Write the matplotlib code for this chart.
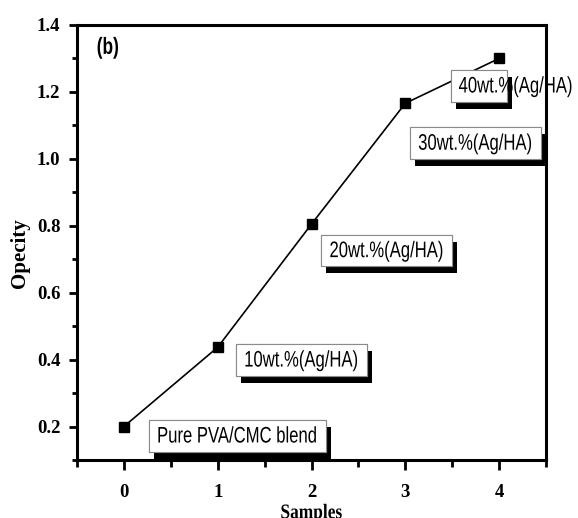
import matplotlib
matplotlib.use("Agg")
import matplotlib.pyplot as plt
from matplotlib.patches import Rectangle
from matplotlib.ticker import MultipleLocator
from matplotlib.transforms import Affine2D
import matplotlib.patheffects as pe

# Opacity of PVA/CMC films loaded with Ag/HA
samples = [0, 1, 2, 3, 4]
opacity = [0.20, 0.437, 0.805, 1.166, 1.300]
labels = ["Pure PVA/CMC blend", "10wt.%(Ag/HA)", "20wt.%(Ag/HA)",
          "30wt.%(Ag/HA)", "40wt.%(Ag/HA)"]
xticks = [0, 1, 2, 3, 4]
yticks = [0.2, 0.4, 0.6, 0.8, 1.0, 1.2, 1.4]

# Label box centres (data coords) for the first four labels
label_pos = [(1.207, 0.172), (1.89, 0.399), (2.80, 0.726), (3.745, 1.047)]

sans = "Liberation Sans"
serif = "Liberation Serif"


class TallText(pe.AbstractPathEffect):
    """Draw glyphs stretched vertically about mid cap height (narrow look)."""

    def __init__(self, sy=1.35, mid=36):
        super().__init__()
        self.pre = Affine2D().translate(0, -mid).scale(1, sy).translate(0, mid)

    def draw_path(self, renderer, gc, tpath, affine, rgbFace=None):
        renderer.draw_path(gc, tpath, self.pre + affine, rgbFace)


tall = [TallText(1.35)]

fig = plt.figure(figsize=(5.78, 5.18), dpi=100)
ax = fig.add_axes([77 / 578, 1 - 460 / 518, 469 / 578, 435 / 518])

ax.plot(samples, opacity, color="black", lw=1.2, marker="s", ms=6.5,
        mfc="black", mec="black", zorder=3)

ax.set_xlim(-0.5, 4.5)
ax.set_ylim(0.1, 1.4)
ax.set_xticks(xticks)
ax.set_yticks(yticks)
ax.xaxis.set_minor_locator(MultipleLocator(0.5))
ax.yaxis.set_minor_locator(MultipleLocator(0.1))
ax.set_xticklabels([str(v) for v in xticks], fontfamily=serif,
                   fontweight="bold", fontsize=13.5)
ax.set_yticklabels([f"{v:.1f}" for v in yticks], fontfamily=serif,
                   fontweight="bold", fontsize=13.5)
ax.tick_params(axis="x", which="major", direction="out", length=7, width=2,
               pad=10)
ax.tick_params(axis="x", which="minor", direction="out", length=5, width=2)
ax.tick_params(axis="y", which="major", direction="out", length=6, width=2,
               pad=6)
ax.tick_params(axis="y", which="minor", direction="out", length=3.6, width=2)
for sp in ax.spines.values():
    sp.set_linewidth(2.2)

shadow = [pe.withSimplePatchShadow(offset=(3.6, -5), shadow_rgbFace="black",
                                   alpha=1.0), pe.Normal()]

for (x, y), txt in zip(label_pos, labels[:4]):
    t = ax.text(x, y, txt, ha="center", va="center", fontfamily=sans,
                fontsize=12, zorder=5, path_effects=tall,
                bbox=dict(boxstyle="square,pad=0.5", fc="white",
                          ec="#8a8a8a", lw=0.8))
    t.get_bbox_patch().set_path_effects(shadow)

# The last label spills past its box and the frame
box = Rectangle((3.483, 1.170), 0.598, 0.0955, fc="white", ec="#8a8a8a",
                lw=0.8, zorder=4, clip_on=False)
box.set_path_effects(shadow)
ax.add_patch(box)
ax.text(3.568, 1.218, labels[4], ha="left", va="center", fontfamily=sans,
        fontsize=12, zorder=6, clip_on=False, path_effects=tall)

ax.text(0.066, 0.949, "(b)", transform=ax.transAxes, ha="center",
        va="center", fontfamily=sans, fontweight="bold", fontsize=12.5,
        path_effects=tall)

fig.text(311.5 / 578, 1 - 505 / 518, "Samples", ha="center", va="top",
         fontfamily=serif, fontweight="bold", fontsize=12.5,
         path_effects=[TallText(1.2)])
fig.text(20 / 578, 1 - 253 / 518, "Opecity", ha="center", va="center",
         rotation=90, fontfamily=serif, fontweight="bold", fontsize=15)

fig.savefig("out.png", dpi=100)
